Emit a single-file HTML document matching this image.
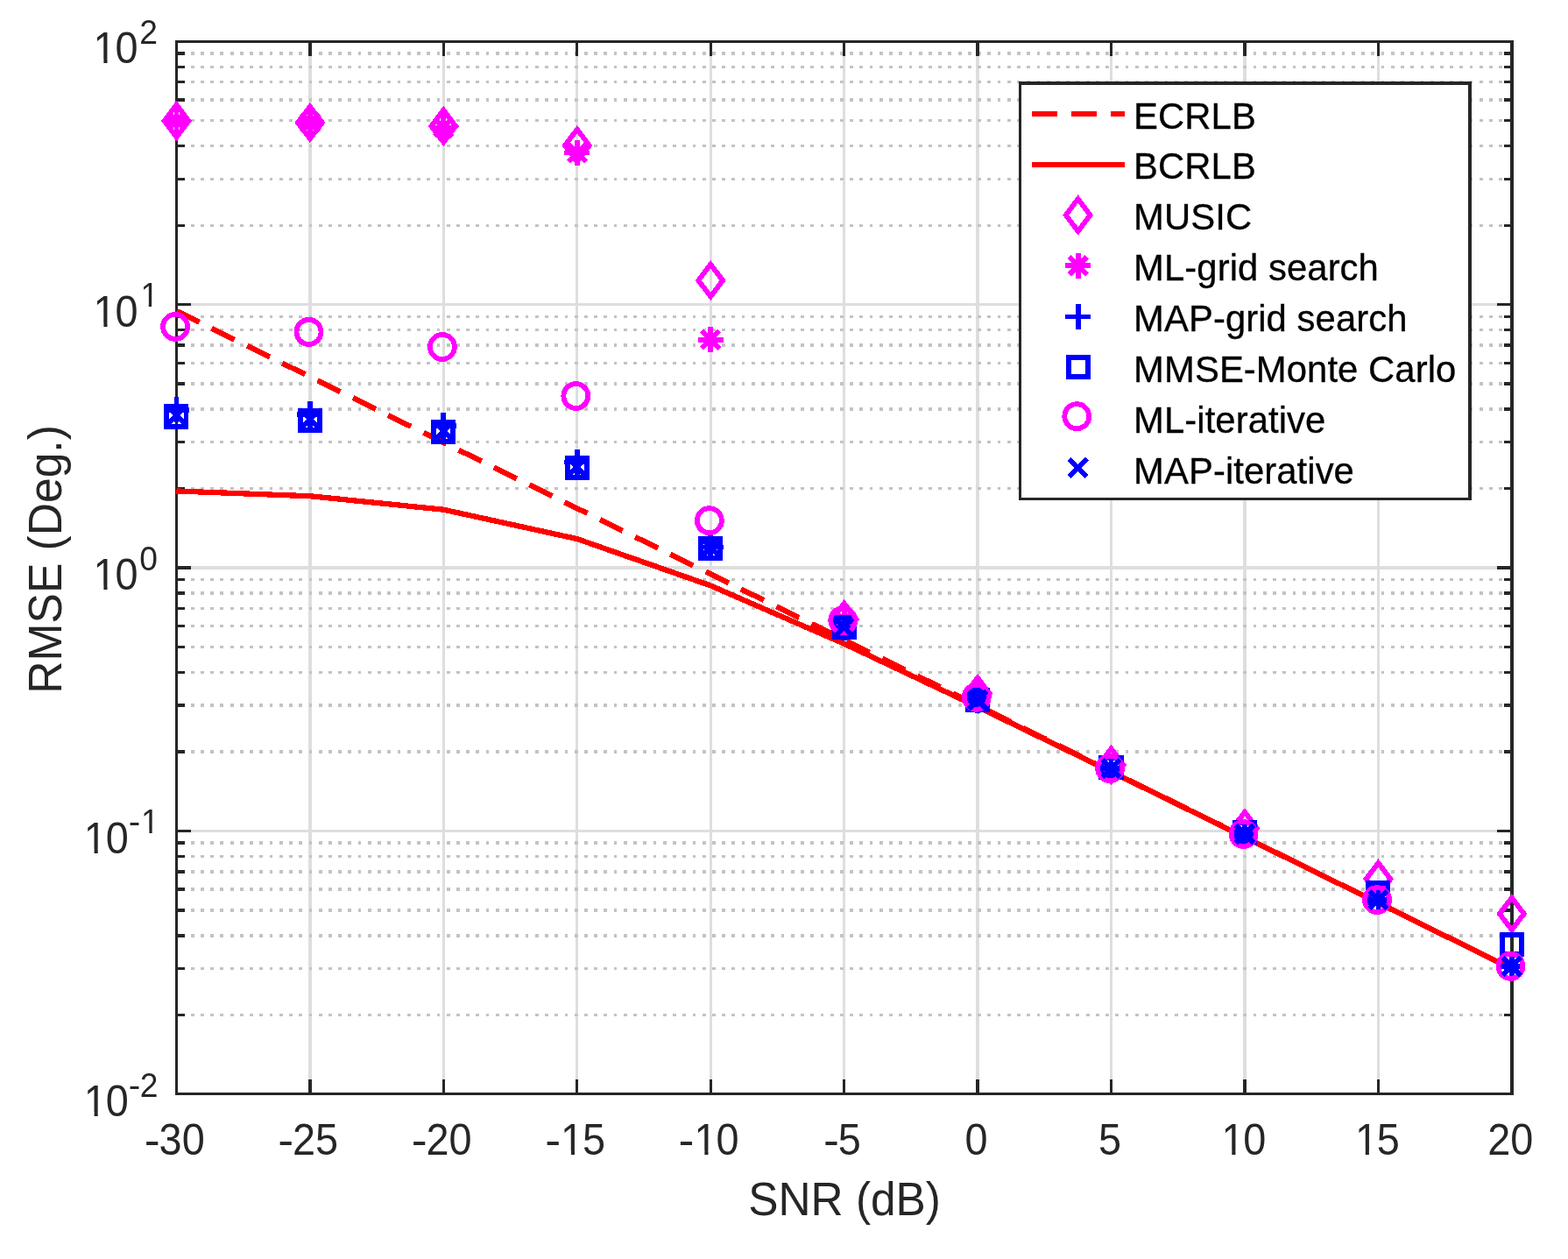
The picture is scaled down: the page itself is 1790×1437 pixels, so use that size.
<!DOCTYPE html>
<html lang="en">
<head>
<meta charset="utf-8">
<title>RMSE versus SNR</title>
<style>
html,body{margin:0;padding:0;background:#ffffff;}
body{width:1790px;height:1437px;overflow:hidden;font-family:"Liberation Sans",sans-serif;}
svg{display:block;}
svg text{white-space:pre;}
</style>
</head>
<body>
<svg width="1790" height="1437" viewBox="0 0 1790 1437">
<rect x="0" y="0" width="1790" height="1437" fill="#ffffff"/>
<g id="grid" fill="none" stroke-width="3.4" shape-rendering="crispEdges">
<g stroke="#dedede">
<line x1="353.90" y1="47.50" x2="353.90" y2="1248.50"/>
<line x1="506.34" y1="47.50" x2="506.34" y2="1248.50"/>
<line x1="658.78" y1="47.50" x2="658.78" y2="1248.50"/>
<line x1="811.22" y1="47.50" x2="811.22" y2="1248.50"/>
<line x1="963.66" y1="47.50" x2="963.66" y2="1248.50"/>
<line x1="1116.10" y1="47.50" x2="1116.10" y2="1248.50"/>
<line x1="1268.54" y1="47.50" x2="1268.54" y2="1248.50"/>
<line x1="1420.98" y1="47.50" x2="1420.98" y2="1248.50"/>
<line x1="1573.42" y1="47.50" x2="1573.42" y2="1248.50"/>
<line x1="201.46" y1="347.640" x2="1725.86" y2="347.640"/>
<line x1="201.46" y1="648.040" x2="1725.86" y2="648.040"/>
<line x1="201.46" y1="948.440" x2="1725.86" y2="948.440"/>
</g>
<g stroke="#c3c3c3" stroke-dasharray="3.8 7.43">
<line x1="206.55" y1="1158.411" x2="1725.86" y2="1158.411"/>
<line x1="206.55" y1="1105.513" x2="1725.86" y2="1105.513"/>
<line x1="206.55" y1="1067.981" x2="1725.86" y2="1067.981"/>
<line x1="206.55" y1="1038.869" x2="1725.86" y2="1038.869"/>
<line x1="206.55" y1="1015.083" x2="1725.86" y2="1015.083"/>
<line x1="206.55" y1="994.973" x2="1725.86" y2="994.973"/>
<line x1="206.55" y1="977.552" x2="1725.86" y2="977.552"/>
<line x1="206.55" y1="962.186" x2="1725.86" y2="962.186"/>
<line x1="206.55" y1="858.011" x2="1725.86" y2="858.011"/>
<line x1="206.55" y1="805.113" x2="1725.86" y2="805.113"/>
<line x1="206.55" y1="767.581" x2="1725.86" y2="767.581"/>
<line x1="206.55" y1="738.469" x2="1725.86" y2="738.469"/>
<line x1="206.55" y1="714.683" x2="1725.86" y2="714.683"/>
<line x1="206.55" y1="694.573" x2="1725.86" y2="694.573"/>
<line x1="206.55" y1="677.152" x2="1725.86" y2="677.152"/>
<line x1="206.55" y1="661.786" x2="1725.86" y2="661.786"/>
<line x1="206.55" y1="557.611" x2="1725.86" y2="557.611"/>
<line x1="206.55" y1="504.713" x2="1725.86" y2="504.713"/>
<line x1="206.55" y1="467.181" x2="1725.86" y2="467.181"/>
<line x1="206.55" y1="438.069" x2="1725.86" y2="438.069"/>
<line x1="206.55" y1="414.283" x2="1725.86" y2="414.283"/>
<line x1="206.55" y1="394.173" x2="1725.86" y2="394.173"/>
<line x1="206.55" y1="376.752" x2="1725.86" y2="376.752"/>
<line x1="206.55" y1="361.386" x2="1725.86" y2="361.386"/>
<line x1="206.55" y1="257.211" x2="1725.86" y2="257.211"/>
<line x1="206.55" y1="204.313" x2="1725.86" y2="204.313"/>
<line x1="206.55" y1="166.781" x2="1725.86" y2="166.781"/>
<line x1="206.55" y1="137.669" x2="1725.86" y2="137.669"/>
<line x1="206.55" y1="113.883" x2="1725.86" y2="113.883"/>
<line x1="206.55" y1="93.773" x2="1725.86" y2="93.773"/>
<line x1="206.55" y1="76.352" x2="1725.86" y2="76.352"/>
<line x1="206.55" y1="60.986" x2="1725.86" y2="60.986"/>
</g>
</g>
<g id="axes" fill="none" stroke="#262626" stroke-width="3.4" stroke-linecap="square" shape-rendering="crispEdges">
<rect x="201.46" y="47.50" width="1524.40" height="1201.00"/>
<line x1="353.90" y1="1248.50" x2="353.90" y2="1233.26"/>
<line x1="353.90" y1="47.50" x2="353.90" y2="62.74"/>
<line x1="506.34" y1="1248.50" x2="506.34" y2="1233.26"/>
<line x1="506.34" y1="47.50" x2="506.34" y2="62.74"/>
<line x1="658.78" y1="1248.50" x2="658.78" y2="1233.26"/>
<line x1="658.78" y1="47.50" x2="658.78" y2="62.74"/>
<line x1="811.22" y1="1248.50" x2="811.22" y2="1233.26"/>
<line x1="811.22" y1="47.50" x2="811.22" y2="62.74"/>
<line x1="963.66" y1="1248.50" x2="963.66" y2="1233.26"/>
<line x1="963.66" y1="47.50" x2="963.66" y2="62.74"/>
<line x1="1116.10" y1="1248.50" x2="1116.10" y2="1233.26"/>
<line x1="1116.10" y1="47.50" x2="1116.10" y2="62.74"/>
<line x1="1268.54" y1="1248.50" x2="1268.54" y2="1233.26"/>
<line x1="1268.54" y1="47.50" x2="1268.54" y2="62.74"/>
<line x1="1420.98" y1="1248.50" x2="1420.98" y2="1233.26"/>
<line x1="1420.98" y1="47.50" x2="1420.98" y2="62.74"/>
<line x1="1573.42" y1="1248.50" x2="1573.42" y2="1233.26"/>
<line x1="1573.42" y1="47.50" x2="1573.42" y2="62.74"/>
<line x1="201.46" y1="347.640" x2="216.71" y2="347.640"/>
<line x1="1725.86" y1="347.640" x2="1710.62" y2="347.640"/>
<line x1="201.46" y1="648.040" x2="216.71" y2="648.040"/>
<line x1="1725.86" y1="648.040" x2="1710.62" y2="648.040"/>
<line x1="201.46" y1="948.440" x2="216.71" y2="948.440"/>
<line x1="1725.86" y1="948.440" x2="1710.62" y2="948.440"/>
<line x1="201.46" y1="1158.411" x2="209.08" y2="1158.411"/>
<line x1="1725.86" y1="1158.411" x2="1718.24" y2="1158.411"/>
<line x1="201.46" y1="1105.513" x2="209.08" y2="1105.513"/>
<line x1="1725.86" y1="1105.513" x2="1718.24" y2="1105.513"/>
<line x1="201.46" y1="1067.981" x2="209.08" y2="1067.981"/>
<line x1="1725.86" y1="1067.981" x2="1718.24" y2="1067.981"/>
<line x1="201.46" y1="1038.869" x2="209.08" y2="1038.869"/>
<line x1="1725.86" y1="1038.869" x2="1718.24" y2="1038.869"/>
<line x1="201.46" y1="1015.083" x2="209.08" y2="1015.083"/>
<line x1="1725.86" y1="1015.083" x2="1718.24" y2="1015.083"/>
<line x1="201.46" y1="994.973" x2="209.08" y2="994.973"/>
<line x1="1725.86" y1="994.973" x2="1718.24" y2="994.973"/>
<line x1="201.46" y1="977.552" x2="209.08" y2="977.552"/>
<line x1="1725.86" y1="977.552" x2="1718.24" y2="977.552"/>
<line x1="201.46" y1="962.186" x2="209.08" y2="962.186"/>
<line x1="1725.86" y1="962.186" x2="1718.24" y2="962.186"/>
<line x1="201.46" y1="858.011" x2="209.08" y2="858.011"/>
<line x1="1725.86" y1="858.011" x2="1718.24" y2="858.011"/>
<line x1="201.46" y1="805.113" x2="209.08" y2="805.113"/>
<line x1="1725.86" y1="805.113" x2="1718.24" y2="805.113"/>
<line x1="201.46" y1="767.581" x2="209.08" y2="767.581"/>
<line x1="1725.86" y1="767.581" x2="1718.24" y2="767.581"/>
<line x1="201.46" y1="738.469" x2="209.08" y2="738.469"/>
<line x1="1725.86" y1="738.469" x2="1718.24" y2="738.469"/>
<line x1="201.46" y1="714.683" x2="209.08" y2="714.683"/>
<line x1="1725.86" y1="714.683" x2="1718.24" y2="714.683"/>
<line x1="201.46" y1="694.573" x2="209.08" y2="694.573"/>
<line x1="1725.86" y1="694.573" x2="1718.24" y2="694.573"/>
<line x1="201.46" y1="677.152" x2="209.08" y2="677.152"/>
<line x1="1725.86" y1="677.152" x2="1718.24" y2="677.152"/>
<line x1="201.46" y1="661.786" x2="209.08" y2="661.786"/>
<line x1="1725.86" y1="661.786" x2="1718.24" y2="661.786"/>
<line x1="201.46" y1="557.611" x2="209.08" y2="557.611"/>
<line x1="1725.86" y1="557.611" x2="1718.24" y2="557.611"/>
<line x1="201.46" y1="504.713" x2="209.08" y2="504.713"/>
<line x1="1725.86" y1="504.713" x2="1718.24" y2="504.713"/>
<line x1="201.46" y1="467.181" x2="209.08" y2="467.181"/>
<line x1="1725.86" y1="467.181" x2="1718.24" y2="467.181"/>
<line x1="201.46" y1="438.069" x2="209.08" y2="438.069"/>
<line x1="1725.86" y1="438.069" x2="1718.24" y2="438.069"/>
<line x1="201.46" y1="414.283" x2="209.08" y2="414.283"/>
<line x1="1725.86" y1="414.283" x2="1718.24" y2="414.283"/>
<line x1="201.46" y1="394.173" x2="209.08" y2="394.173"/>
<line x1="1725.86" y1="394.173" x2="1718.24" y2="394.173"/>
<line x1="201.46" y1="376.752" x2="209.08" y2="376.752"/>
<line x1="1725.86" y1="376.752" x2="1718.24" y2="376.752"/>
<line x1="201.46" y1="361.386" x2="209.08" y2="361.386"/>
<line x1="1725.86" y1="361.386" x2="1718.24" y2="361.386"/>
<line x1="201.46" y1="257.211" x2="209.08" y2="257.211"/>
<line x1="1725.86" y1="257.211" x2="1718.24" y2="257.211"/>
<line x1="201.46" y1="204.313" x2="209.08" y2="204.313"/>
<line x1="1725.86" y1="204.313" x2="1718.24" y2="204.313"/>
<line x1="201.46" y1="166.781" x2="209.08" y2="166.781"/>
<line x1="1725.86" y1="166.781" x2="1718.24" y2="166.781"/>
<line x1="201.46" y1="137.669" x2="209.08" y2="137.669"/>
<line x1="1725.86" y1="137.669" x2="1718.24" y2="137.669"/>
<line x1="201.46" y1="113.883" x2="209.08" y2="113.883"/>
<line x1="1725.86" y1="113.883" x2="1718.24" y2="113.883"/>
<line x1="201.46" y1="93.773" x2="209.08" y2="93.773"/>
<line x1="1725.86" y1="93.773" x2="1718.24" y2="93.773"/>
<line x1="201.46" y1="76.352" x2="209.08" y2="76.352"/>
<line x1="1725.86" y1="76.352" x2="1718.24" y2="76.352"/>
<line x1="201.46" y1="60.986" x2="209.08" y2="60.986"/>
<line x1="1725.86" y1="60.986" x2="1718.24" y2="60.986"/>
</g>
<g id="data" fill="none" shape-rendering="crispEdges">
<polyline points="201.46,354.99 353.90,430.05 506.34,505.11 658.78,580.18 811.22,655.24 963.66,730.30 1116.10,805.36 1268.54,880.43 1420.98,955.49 1573.42,1030.55 1725.86,1105.61" stroke="#ff0000" stroke-width="6.25" stroke-dasharray="29 15.9"/>
<polyline points="201.46,560.47 353.90,566.24 506.34,581.70 658.78,615.06 811.22,668.40 963.66,734.76 1116.10,806.81 1268.54,880.89 1420.98,955.63 1573.42,1030.60 1725.86,1105.63" stroke="#ff0000" stroke-width="6.25"/>
<g stroke-width="5.83" stroke-miterlimit="10">
<path d="M201.46,119.60 L215.36,138.00 L201.46,156.40 L187.56,138.00 Z" stroke="#ff00ff"/>
<path d="M353.90,121.60 L367.80,140.00 L353.90,158.40 L340.00,140.00 Z" stroke="#ff00ff"/>
<path d="M506.34,125.60 L520.24,144.00 L506.34,162.40 L492.44,144.00 Z" stroke="#ff00ff"/>
<path d="M658.78,147.70 L672.68,166.10 L658.78,184.50 L644.88,166.10 Z" stroke="#ff00ff"/>
<path d="M811.22,301.70 L825.12,320.10 L811.22,338.50 L797.32,320.10 Z" stroke="#ff00ff"/>
<path d="M963.66,688.60 L977.56,707.00 L963.66,725.40 L949.76,707.00 Z" stroke="#ff00ff"/>
<path d="M1116.10,773.60 L1130.00,792.00 L1116.10,810.40 L1102.20,792.00 Z" stroke="#ff00ff"/>
<path d="M1268.54,854.60 L1282.44,873.00 L1268.54,891.40 L1254.64,873.00 Z" stroke="#ff00ff"/>
<path d="M1420.98,926.80 L1434.88,945.20 L1420.98,963.60 L1407.08,945.20 Z" stroke="#ff00ff"/>
<path d="M1573.42,984.90 L1587.32,1003.30 L1573.42,1021.70 L1559.52,1003.30 Z" stroke="#ff00ff"/>
<path d="M1725.86,1024.60 L1739.76,1043.00 L1725.86,1061.40 L1711.96,1043.00 Z" stroke="#ff00ff"/>
</g>
<g stroke-width="5.83" stroke-miterlimit="10">
<path d="M186.91,138.00 H216.01 M201.46,123.45 V152.55" stroke="#ff00ff"/><path d="M191.36,127.90 L211.56,148.10 M191.36,148.10 L211.56,127.90" stroke="#ff00ff"/>
<path d="M339.35,140.00 H368.45 M353.90,125.45 V154.55" stroke="#ff00ff"/><path d="M343.80,129.90 L364.00,150.10 M343.80,150.10 L364.00,129.90" stroke="#ff00ff"/>
<path d="M491.79,145.50 H520.89 M506.34,130.95 V160.05" stroke="#ff00ff"/><path d="M496.24,135.40 L516.44,155.60 M496.24,155.60 L516.44,135.40" stroke="#ff00ff"/>
<path d="M644.23,174.50 H673.33 M658.78,159.95 V189.05" stroke="#ff00ff"/><path d="M648.68,164.40 L668.88,184.60 M648.68,184.60 L668.88,164.40" stroke="#ff00ff"/>
<path d="M796.67,387.60 H825.77 M811.22,373.05 V402.15" stroke="#ff00ff"/><path d="M801.12,377.50 L821.32,397.70 M801.12,397.70 L821.32,377.50" stroke="#ff00ff"/>
<path d="M949.11,708.20 H978.21 M963.66,693.65 V722.75" stroke="#ff00ff"/><path d="M953.56,698.10 L973.76,718.30 M953.56,718.30 L973.76,698.10" stroke="#ff00ff"/>
<path d="M1101.55,795.80 H1130.65 M1116.10,781.25 V810.35" stroke="#ff00ff"/><path d="M1106.00,785.70 L1126.20,805.90 M1106.00,805.90 L1126.20,785.70" stroke="#ff00ff"/>
<path d="M1253.99,877.00 H1283.09 M1268.54,862.45 V891.55" stroke="#ff00ff"/><path d="M1258.44,866.90 L1278.64,887.10 M1258.44,887.10 L1278.64,866.90" stroke="#ff00ff"/>
<path d="M1406.43,952.00 H1435.53 M1420.98,937.45 V966.55" stroke="#ff00ff"/><path d="M1410.88,941.90 L1431.08,962.10 M1410.88,962.10 L1431.08,941.90" stroke="#ff00ff"/>
<path d="M1558.87,1027.10 H1587.97 M1573.42,1012.55 V1041.65" stroke="#ff00ff"/><path d="M1563.32,1017.00 L1583.52,1037.20 M1563.32,1037.20 L1583.52,1017.00" stroke="#ff00ff"/>
<path d="M1711.31,1102.80 H1740.41 M1725.86,1088.25 V1117.35" stroke="#ff00ff"/><path d="M1715.76,1092.70 L1735.96,1112.90 M1715.76,1112.90 L1735.96,1092.70" stroke="#ff00ff"/>
</g>
<g stroke-width="5.83" stroke-miterlimit="10">
<path d="M186.91,467.60 H216.01 M201.46,453.05 V482.15" stroke="#0000ff"/>
<path d="M339.35,473.00 H368.45 M353.90,458.45 V487.55" stroke="#0000ff"/>
<path d="M491.79,486.00 H520.89 M506.34,471.45 V500.55" stroke="#0000ff"/>
<path d="M644.23,527.50 H673.33 M658.78,512.95 V542.05" stroke="#0000ff"/>
<path d="M796.67,624.50 H825.77 M811.22,609.95 V639.05" stroke="#0000ff"/>
<path d="M949.11,716.60 H978.21 M963.66,702.05 V731.15" stroke="#0000ff"/>
<path d="M1101.55,799.00 H1130.65 M1116.10,784.45 V813.55" stroke="#0000ff"/>
<path d="M1253.99,877.00 H1283.09 M1268.54,862.45 V891.55" stroke="#0000ff"/>
<path d="M1406.43,952.00 H1435.53 M1420.98,937.45 V966.55" stroke="#0000ff"/>
<path d="M1558.87,1027.00 H1587.97 M1573.42,1012.45 V1041.55" stroke="#0000ff"/>
<path d="M1711.31,1103.00 H1740.41 M1725.86,1088.45 V1117.55" stroke="#0000ff"/>
</g>
<g stroke-width="5.83" stroke-miterlimit="10">
<rect x="190.31" y="464.40" width="22.2" height="22.2" stroke="#0000ff"/>
<rect x="342.75" y="468.70" width="22.2" height="22.2" stroke="#0000ff"/>
<rect x="495.19" y="481.90" width="22.2" height="22.2" stroke="#0000ff"/>
<rect x="647.63" y="522.90" width="22.2" height="22.2" stroke="#0000ff"/>
<rect x="800.07" y="614.90" width="22.2" height="22.2" stroke="#0000ff"/>
<rect x="952.51" y="704.90" width="22.2" height="22.2" stroke="#0000ff"/>
<rect x="1104.95" y="787.80" width="22.2" height="22.2" stroke="#0000ff"/>
<rect x="1257.39" y="864.90" width="22.2" height="22.2" stroke="#0000ff"/>
<rect x="1409.83" y="938.90" width="22.2" height="22.2" stroke="#0000ff"/>
<rect x="1562.27" y="1008.10" width="22.2" height="22.2" stroke="#0000ff"/>
<rect x="1714.71" y="1066.90" width="22.2" height="22.2" stroke="#0000ff"/>
</g>
<g stroke-width="5.83" stroke-miterlimit="10">
<circle cx="200.06" cy="372.90" r="14.0" stroke="#ff00ff"/>
<circle cx="352.50" cy="378.90" r="14.0" stroke="#ff00ff"/>
<circle cx="504.94" cy="396.00" r="14.0" stroke="#ff00ff"/>
<circle cx="657.38" cy="452.00" r="14.0" stroke="#ff00ff"/>
<circle cx="809.82" cy="594.20" r="14.0" stroke="#ff00ff"/>
<circle cx="962.26" cy="708.20" r="14.0" stroke="#ff00ff"/>
<circle cx="1114.70" cy="795.80" r="14.0" stroke="#ff00ff"/>
<circle cx="1267.14" cy="877.00" r="14.0" stroke="#ff00ff"/>
<circle cx="1419.58" cy="952.00" r="14.0" stroke="#ff00ff"/>
<circle cx="1572.02" cy="1027.10" r="14.0" stroke="#ff00ff"/>
<circle cx="1724.46" cy="1102.80" r="14.0" stroke="#ff00ff"/>
</g>
<g stroke-width="5.83" stroke-miterlimit="10">
<path d="M191.36,463.90 L211.56,484.10 M191.36,484.10 L211.56,463.90" stroke="#0000ff"/>
<path d="M343.80,468.60 L364.00,488.80 M343.80,488.80 L364.00,468.60" stroke="#0000ff"/>
<path d="M496.24,481.90 L516.44,502.10 M496.24,502.10 L516.44,481.90" stroke="#0000ff"/>
<path d="M648.68,522.90 L668.88,543.10 M648.68,543.10 L668.88,522.90" stroke="#0000ff"/>
<path d="M801.12,614.70 L821.32,634.90 M801.12,634.90 L821.32,614.70" stroke="#0000ff"/>
<path d="M953.56,705.90 L973.76,726.10 M953.56,726.10 L973.76,705.90" stroke="#0000ff"/>
<path d="M1106.00,788.90 L1126.20,809.10 M1106.00,809.10 L1126.20,788.90" stroke="#0000ff"/>
<path d="M1258.44,866.90 L1278.64,887.10 M1258.44,887.10 L1278.64,866.90" stroke="#0000ff"/>
<path d="M1410.88,941.90 L1431.08,962.10 M1410.88,962.10 L1431.08,941.90" stroke="#0000ff"/>
<path d="M1563.32,1016.90 L1583.52,1037.10 M1563.32,1037.10 L1583.52,1016.90" stroke="#0000ff"/>
<path d="M1715.76,1092.90 L1735.96,1113.10 M1715.76,1113.10 L1735.96,1092.90" stroke="#0000ff"/>
</g>
</g>
<g id="legend">
<rect x="1164.5" y="95.0" width="513.5" height="474.5" fill="#ffffff" stroke="#262626" stroke-width="3.4" shape-rendering="crispEdges"/>
<g fill="none" stroke-width="5.83" stroke-miterlimit="10" shape-rendering="crispEdges">
<line x1="1177.7" y1="130.0" x2="1284.1" y2="130.0" stroke="#ff0000" stroke-width="6.25" stroke-dasharray="29.2 16"/>
<line x1="1177.7" y1="187.9" x2="1284.1" y2="187.9" stroke="#ff0000" stroke-width="6.25"/>
<path d="M1230.70,227.10 L1244.60,245.50 L1230.70,263.90 L1216.80,245.50 Z" stroke="#ff00ff"/>
<path d="M1216.15,303.40 H1245.25 M1230.70,288.85 V317.95" stroke="#ff00ff"/><path d="M1220.60,293.30 L1240.80,313.50 M1220.60,313.50 L1240.80,293.30" stroke="#ff00ff"/>
<path d="M1216.15,361.50 H1245.25 M1230.70,346.95 V376.05" stroke="#0000ff"/>
<rect x="1219.95" y="407.70" width="22.2" height="22.2" stroke="#0000ff"/>
<circle cx="1229.30" cy="475.20" r="14.0" stroke="#ff00ff"/>
<path d="M1220.60,523.80 L1240.80,544.00 M1220.60,544.00 L1240.80,523.80" stroke="#0000ff"/>
</g>
<g font-family="'Liberation Sans', sans-serif" font-size="41.85" fill="#000000" stroke="#000000" stroke-width="0.3" letter-spacing="0.06">
<text transform="translate(1294.1,146.5) scale(1,1.025)">ECRLB</text>
<text transform="translate(1294.1,204.3) scale(1,1.025)">BCRLB</text>
<text transform="translate(1294.1,262.2) scale(1,1.025)">MUSIC</text>
<text transform="translate(1294.1,320.1) scale(1,1.025)">ML-grid search</text>
<text transform="translate(1294.1,377.9) scale(1,1.025)">MAP-grid search</text>
<text transform="translate(1294.1,435.8) scale(1,1.025)">MMSE-Monte Carlo</text>
<text transform="translate(1294.1,493.6) scale(1,1.025)">ML-iterative</text>
<text transform="translate(1294.1,551.5) scale(1,1.025)">MAP-iterative</text>
</g>
</g>
<g id="ticklabels" font-family="'Liberation Sans', sans-serif" fill="#262626" style="font-kerning:none">
<text transform="translate(166.00,1317.60) scale(0.97,1.025)" y="0" font-size="48.3"><tspan x="-1.21" textLength="18.50" lengthAdjust="spacingAndGlyphs">-</tspan><tspan x="16.08 42.95">30</tspan></text>
<text transform="translate(318.44,1317.60) scale(0.97,1.025)" y="0" font-size="48.3"><tspan x="-1.21" textLength="18.50" lengthAdjust="spacingAndGlyphs">-</tspan><tspan x="16.08 42.95">25</tspan></text>
<text transform="translate(470.88,1317.60) scale(0.97,1.025)" y="0" font-size="48.3"><tspan x="-1.21" textLength="18.50" lengthAdjust="spacingAndGlyphs">-</tspan><tspan x="16.08 42.95">20</tspan></text>
<text transform="translate(623.32,1317.60) scale(0.97,1.025)" y="0" font-size="48.3"><tspan x="-1.21" textLength="18.50" lengthAdjust="spacingAndGlyphs">-</tspan><tspan x="17.32 42.95">15</tspan></text>
<text transform="translate(775.76,1317.60) scale(0.97,1.025)" y="0" font-size="48.3"><tspan x="-1.21" textLength="18.50" lengthAdjust="spacingAndGlyphs">-</tspan><tspan x="17.32 42.95">10</tspan></text>
<text transform="translate(941.23,1317.60) scale(0.97,1.025)" y="0" font-size="48.3"><tspan x="-1.21" textLength="18.50" lengthAdjust="spacingAndGlyphs">-</tspan><tspan x="16.08">5</tspan></text>
<text transform="translate(1101.47,1317.60) scale(0.97,1.025)" y="0" font-size="48.3"><tspan x="0.00">0</tspan></text>
<text transform="translate(1253.91,1317.60) scale(0.97,1.025)" y="0" font-size="48.3"><tspan x="0.00">5</tspan></text>
<text transform="translate(1393.32,1317.60) scale(0.97,1.025)" y="0" font-size="48.3"><tspan x="1.24 26.86">10</tspan></text>
<text transform="translate(1545.76,1317.60) scale(0.97,1.025)" y="0" font-size="48.3"><tspan x="1.24 26.86">15</tspan></text>
<text transform="translate(1698.20,1317.60) scale(0.97,1.025)" y="0" font-size="48.3"><tspan x="0.00 26.86">20</tspan></text>
<text transform="translate(105.40,71.90) scale(0.97,1.025)" y="0" font-size="48.3"><tspan x="1.24 26.86">10</tspan></text>
<text transform="translate(159.20,49.90) scale(0.97,1.0)" y="0" font-size="38.4"><tspan x="0.00">2</tspan></text>
<text transform="translate(105.40,373.00) scale(0.97,1.025)" y="0" font-size="48.3"><tspan x="1.24 26.86">10</tspan></text>
<text transform="translate(159.20,349.90) scale(0.97,1.0)" y="0" font-size="38.4"><tspan x="1.24">1</tspan></text>
<text transform="translate(105.40,673.00) scale(0.97,1.025)" y="0" font-size="48.3"><tspan x="1.24 26.86">10</tspan></text>
<text transform="translate(159.20,650.60) scale(0.97,1.0)" y="0" font-size="38.4"><tspan x="0.00">0</tspan></text>
<text transform="translate(94.60,973.70) scale(0.97,1.025)" y="0" font-size="48.3"><tspan x="1.24 26.86">10</tspan></text>
<text transform="translate(147.40,951.00) scale(0.97,1.0)" y="0" font-size="38.4"><tspan x="-0.58" textLength="13.94" lengthAdjust="spacingAndGlyphs">-</tspan><tspan x="14.02">1</tspan></text>
<text transform="translate(94.60,1273.70) scale(0.97,1.025)" y="0" font-size="48.3"><tspan x="1.24 26.86">10</tspan></text>
<text transform="translate(147.40,1251.60) scale(0.97,1.0)" y="0" font-size="38.4"><tspan x="-0.58" textLength="13.94" lengthAdjust="spacingAndGlyphs">-</tspan><tspan x="12.79">2</tspan></text>
<text transform="translate(964.1,1386.9) scale(0.969,1)" font-size="53" text-anchor="middle">SNR (dB)</text>
<text transform="translate(69.8,638.4) rotate(-90) scale(0.973,1)" font-size="53" text-anchor="middle">RMSE (Deg.)</text>
</g>
<g id="glyphtrim" fill="#ffffff">
<rect x="642.47" y="1313.20" width="9.44" height="5.40"/>
<rect x="656.04" y="1313.20" width="8.91" height="5.40"/>
<rect x="794.91" y="1313.20" width="9.44" height="5.40"/>
<rect x="808.48" y="1313.20" width="8.91" height="5.40"/>
<rect x="1396.87" y="1313.20" width="9.44" height="5.40"/>
<rect x="1410.44" y="1313.20" width="8.91" height="5.40"/>
<rect x="1549.31" y="1313.20" width="9.44" height="5.40"/>
<rect x="1562.88" y="1313.20" width="8.91" height="5.40"/>
<rect x="108.94" y="67.50" width="9.44" height="5.40"/>
<rect x="122.52" y="67.50" width="8.91" height="5.40"/>
<rect x="108.94" y="368.60" width="9.44" height="5.40"/>
<rect x="122.52" y="368.60" width="8.91" height="5.40"/>
<rect x="162.26" y="346.33" width="7.51" height="4.57"/>
<rect x="173.06" y="346.33" width="7.08" height="4.57"/>
<rect x="108.94" y="668.60" width="9.44" height="5.40"/>
<rect x="122.52" y="668.60" width="8.91" height="5.40"/>
<rect x="98.14" y="969.30" width="9.44" height="5.40"/>
<rect x="111.72" y="969.30" width="8.91" height="5.40"/>
<rect x="162.87" y="947.43" width="7.51" height="4.57"/>
<rect x="173.66" y="947.43" width="7.08" height="4.57"/>
<rect x="98.14" y="1269.30" width="9.44" height="5.40"/>
<rect x="111.72" y="1269.30" width="8.91" height="5.40"/>
</g>
</svg>
</body>
</html>
